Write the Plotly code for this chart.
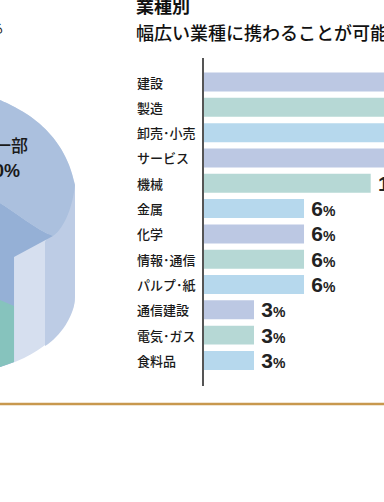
import plotly.graph_objects as go

# ---- data ----
categories = ["建設", "製造", "卸売･小売", "サービス", "機械", "金属", "化学",
              "情報･通信", "パルプ･紙", "通信建設", "電気･ガス", "食料品"]
values = [16, 13, 13, 12, 10, 6, 6, 6, 6, 3, 3, 3]
palette = ["#bcc8e3", "#b6d8d5", "#b6d8ed"]
bar_colors = [palette[i % 3] for i in range(len(categories))]

title_text = "業種別"
subtitle_text = "幅広い業種に携わることが可能"

W, H = 384, 502
JP = "Noto Sans CJK JP"


def px(x):
    return x / W


def py(y):
    return 1 - y / H


fig = go.Figure()
fig.add_trace(go.Bar(
    y=list(range(len(categories))), x=values, orientation="h",
    marker=dict(color=bar_colors, line=dict(width=0)),
    text=[f"\u2009<b>{v}</b><span style='font-size:14px'><b>%</b></span>" for v in values],
    textposition="outside", constraintext="none", cliponaxis=False,
    textfont=dict(family="Liberation Sans", size=21, color="#222222"),
    hoverinfo="skip",
))

# y axis domain: 58px .. 386px; x axis domain: 204px .. 384px
fig.update_layout(
    width=W, height=H, margin=dict(l=0, r=0, t=0, b=0),
    paper_bgcolor="white", plot_bgcolor="white", showlegend=False,
    bargap=0.25,
    xaxis=dict(domain=[px(204), 1], range=[0, 180 / 16.67], visible=False),
    yaxis=dict(domain=[py(386), py(58)], range=[12.01, -0.95],
               showticklabels=False, showgrid=False, zeroline=False,
               showline=True, linecolor="#555555", linewidth=2, ticks=""),
)

annotations = []
for i, c in enumerate(categories):
    annotations.append(dict(x=px(135), y=i, xref="paper", yref="y", text=c,
                            xanchor="left", yanchor="middle", showarrow=False,
                            font=dict(family=JP, size=13, color="#1a1a1a", weight=500)))
annotations += [
    dict(x=px(134), y=py(5), xref="paper", yref="paper", text=title_text,
         xanchor="left", yanchor="middle", showarrow=False,
         font=dict(family=JP, size=18, color="#111111", weight=700)),
    dict(x=px(134), y=py(32), xref="paper", yref="paper", text=subtitle_text,
         xanchor="left", yanchor="middle", showarrow=False,
         font=dict(family=JP, size=18, color="#111111", weight=500)),
    dict(x=px(6), y=py(28), xref="paper", yref="paper", text="携わる",
         xanchor="right", yanchor="middle", showarrow=False,
         font=dict(family=JP, size=13, color="#222222")),
    dict(x=px(30), y=py(145), xref="paper", yref="paper", text="一部",
         xanchor="right", yanchor="middle", showarrow=False,
         font=dict(family=JP, size=17, color="#1a1a1a", weight=500)),
    dict(x=px(22), y=py(171), xref="paper", yref="paper", text="<b>50%</b>",
         xanchor="right", yanchor="middle", showarrow=False,
         font=dict(family="Liberation Sans", size=18, color="#1a1a1a")),
]
fig.update_layout(annotations=annotations)


def path(cmds):
    out = []
    for c in cmds:
        op, pts = c[0], c[1:]
        out.append(op + " " + " ".join(f"{px(x):.4f},{py(y):.4f}" for x, y in pts))
    return " ".join(out) + " Z"


shapes = []
# cylinder silhouette (side wall)
shapes.append(dict(type="path", xref="paper", yref="paper", layer="below",
                   path=path([("M", (0, 100)), ("C", (18, 108), (64, 128), (75, 185)),
                              ("L", (75, 297)), ("C", (75, 322), (45, 355), (0, 367))]),
                   fillcolor="#d6dfef", line=dict(width=0)))
# right darker strip of side wall
shapes.append(dict(type="path", xref="paper", yref="paper", layer="below",
                   path=path([("M", (45, 242)), ("L", (75, 185)), ("L", (75, 297)),
                              ("C", (75, 315), (60, 337), (45, 346))]),
                   fillcolor="#bdcce5", line=dict(width=0)))
# top face
shapes.append(dict(type="path", xref="paper", yref="paper", layer="below",
                   path=path([("M", (0, 100)), ("C", (18, 108), (64, 128), (75, 185)),
                              ("C", (72, 212), (62, 230), (53, 236)),
                              ("C", (35, 229), (15, 212), (0, 203))]),
                   fillcolor="#abc0de", line=dict(width=0)))
# darker front-left slice
shapes.append(dict(type="path", xref="paper", yref="paper", layer="below",
                   path=path([("M", (0, 203)), ("C", (15, 212), (35, 229), (53, 236)),
                              ("L", (14, 257)), ("L", (14, 362)), ("L", (0, 367))]),
                   fillcolor="#95b0d6", line=dict(width=0)))
# teal slice
shapes.append(dict(type="path", xref="paper", yref="paper", layer="below",
                   path=path([("M", (0, 300)), ("L", (14, 306)), ("L", (14, 362)),
                              ("L", (0, 367))]),
                   fillcolor="#86c3bd", line=dict(width=0)))
# gold rule
shapes.append(dict(type="line", xref="paper", yref="paper", x0=0, x1=1,
                   y0=py(404), y1=py(404), line=dict(color="#c8984e", width=2.5)))
fig.update_layout(shapes=shapes)

fig.write_html(
    "out.html",
    config={"displayModeBar": False},
    post_script="document.body.style.margin='0';document.body.style.overflow='hidden';",
)
